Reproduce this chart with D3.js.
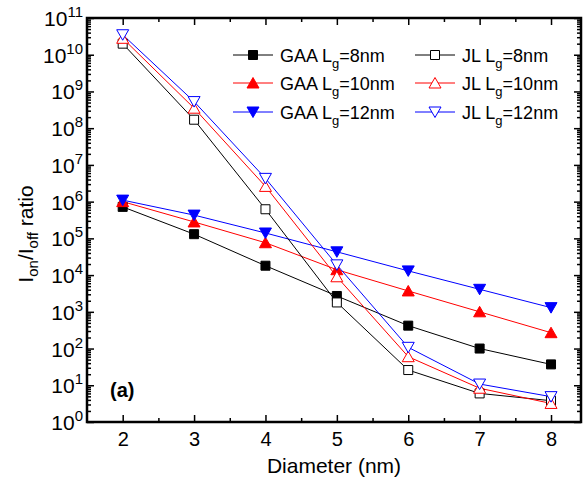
<!DOCTYPE html>
<html><head><meta charset="utf-8">
<script src="https://cdn.jsdelivr.net/npm/d3@7"></script>
<style>body{margin:0;background:#fff;} svg{display:block;font-family:Arial,"Liberation Sans",sans-serif;}</style>
</head><body>
<svg id="c" width="584" height="480"></svg>
<script>
const diameters = [2, 3, 4, 5, 6, 7, 8];
const gaa8  = [7.2e5, 1.3e5, 1.8e4, 2.7e3, 420, 100, 37];
const gaa10 = [1.0e6, 2.8e5, 7.6e4, 1.4e4, 3.7e3, 1.0e3, 270];
const gaa12 = [1.1e6, 4.3e5, 1.4e5, 4.3e4, 1.3e4, 4.1e3, 1.3e3];
const jl8   = [2.0e10, 1.7e8, 6.2e5, 1.8e3, 26, 6.0, 3.8];
const jl10  = [2.8e10, 3.5e8, 2.6e6, 9.0e3, 60, 8.3, 3.2];
const jl12  = [3.5e10, 5.3e8, 4.3e6, 1.9e4, 108, 10.8, 4.9];
const seriesNames = ["GAA", "GAA", "GAA", "JL", "JL", "JL"];
const seriesLg = ["8nm", "10nm", "12nm", "8nm", "10nm", "12nm"];
const xTicks = [2, 3, 4, 5, 6, 7, 8];
const yExponents = [0,1,2,3,4,5,6,7,8,9,10,11];

const series = [
  {name: seriesNames[0], lg: seriesLg[0], values: gaa8,  color: "#000000", shape: "square", filled: true},
  {name: seriesNames[1], lg: seriesLg[1], values: gaa10, color: "#ff0000", shape: "up", filled: true},
  {name: seriesNames[2], lg: seriesLg[2], values: gaa12, color: "#0000ff", shape: "down", filled: true},
  {name: seriesNames[3], lg: seriesLg[3], values: jl8,   color: "#000000", shape: "square", filled: false},
  {name: seriesNames[4], lg: seriesLg[4], values: jl10,  color: "#ff0000", shape: "up", filled: false},
  {name: seriesNames[5], lg: seriesLg[5], values: jl12,  color: "#0000ff", shape: "down", filled: false}
];

const L = 87, R = 581, T = 18, B = 422;
const svg = d3.select("#c");
const x = d3.scaleLinear().domain([1.5, 8.42]).range([L, R]);
const y = d3.scaleLog().domain([1, 1e11]).range([B, T]);

function markerPath(shape) {
  if (shape === "square") return "M-4.5,-4.5H4.5V4.5H-4.5Z";
  if (shape === "up") return "M0,-5.5L6,5L-6,5Z";
  return "M0,5.5L6,-5L-6,-5Z";
}

// lines
const line = d3.line().x((d,i) => x(diameters[i])).y(d => y(d));
series.forEach(s => {
  svg.append("path").attr("d", line(s.values)).attr("fill", "none")
    .attr("stroke", s.color).attr("stroke-width", 1);
});
series.forEach(s => {
  svg.append("g").selectAll("path").data(s.values).join("path")
    .attr("transform", (d,i) => `translate(${x(diameters[i])},${y(d)})`)
    .attr("d", markerPath(s.shape))
    .attr("fill", s.filled ? s.color : "#fff")
    .attr("stroke", s.color).attr("stroke-width", 1);
});

// axes
const minorX = d3.range(2.5, 8.5, 1);
const yMinor = [];
for (let e = 0; e < 11; e++) for (let m = 2; m <= 9; m++) yMinor.push(m * Math.pow(10, e));

const axB = d3.axisBottom(x).tickValues(xTicks).tickSize(-7).tickPadding(10).tickFormat(d3.format("d"));
const gB = svg.append("g").attr("transform", `translate(0,${B})`).call(axB);
gB.append("g").call(d3.axisBottom(x).tickValues(minorX).tickSize(-4).tickFormat(""));
const gT = svg.append("g").attr("transform", `translate(0,${T})`).call(d3.axisTop(x).tickValues(xTicks).tickSize(-7).tickFormat(""));
gT.append("g").call(d3.axisTop(x).tickValues(minorX).tickSize(-4).tickFormat(""));
const gL = svg.append("g").attr("transform", `translate(${L},0)`)
  .call(d3.axisLeft(y).tickValues(yExponents.map(e => Math.pow(10, e))).tickSize(-7).tickFormat(""));
gL.append("g").call(d3.axisLeft(y).tickValues(yMinor).tickSize(-4).tickFormat(""));
const gR = svg.append("g").attr("transform", `translate(${R},0)`)
  .call(d3.axisRight(y).tickValues(yExponents.map(e => Math.pow(10, e))).tickSize(-7).tickFormat(""));
gR.append("g").call(d3.axisRight(y).tickValues(yMinor).tickSize(-4).tickFormat(""));

svg.selectAll(".domain").remove();
svg.selectAll(".tick line").attr("stroke", "#000").attr("stroke-width", 1.5);
gB.selectAll(".tick text").attr("font-size", 20).attr("fill", "#000")
  .attr("font-family", "Arial, 'Liberation Sans', sans-serif");

// frame
svg.append("rect").attr("x", L).attr("y", T).attr("width", R - L).attr("height", B - T)
  .attr("fill", "none").attr("stroke", "#000").attr("stroke-width", 2.5);

// y tick labels
yExponents.forEach(e => {
  const t = svg.append("text").attr("x", 83).attr("y", y(Math.pow(10, e)) + 8)
    .attr("text-anchor", "end").attr("font-size", 21).attr("fill", "#000");
  t.append("tspan").text("10");
  t.append("tspan").attr("dy", -9).attr("font-size", 15).text(String(e));
});

// axis titles
svg.append("text").attr("x", (L + R) / 2).attr("y", 473).attr("text-anchor", "middle")
  .attr("font-size", 21).text("Diameter (nm)");
const yl = svg.append("text").attr("transform", "translate(33,234) rotate(-90)")
  .attr("text-anchor", "middle").attr("font-size", 21);
yl.append("tspan").text("I");
yl.append("tspan").attr("font-size", 15).attr("dy", 5).text("on");
yl.append("tspan").attr("dy", -5).text("/I");
yl.append("tspan").attr("font-size", 15).attr("dy", 5).text("off");
yl.append("tspan").attr("dy", -5).text(" ratio");

svg.append("text").attr("x", 110).attr("y", 397).attr("font-size", 20).attr("font-weight", "bold").text("(a)");

// legend
const legX = [233, 415], legY = [55, 83, 112];
series.forEach((s, i) => {
  const col = Math.floor(i / 3), row = i % 3;
  const lx = legX[col], ly = legY[row];
  svg.append("line").attr("x1", lx).attr("x2", lx + 40).attr("y1", ly).attr("y2", ly)
    .attr("stroke", s.color).attr("stroke-width", 1);
  svg.append("path").attr("transform", `translate(${lx + 20},${ly})`).attr("d", markerPath(s.shape))
    .attr("fill", s.filled ? s.color : "#fff").attr("stroke", s.color);
  const t = svg.append("text").attr("x", lx + 47).attr("y", ly + 7).attr("font-size", 18);
  t.append("tspan").text(s.name + " L");
  t.append("tspan").attr("font-size", 13).attr("dy", 6).text("g");
  t.append("tspan").attr("dy", -6).text("=" + s.lg);
});
</script>
</body></html>
